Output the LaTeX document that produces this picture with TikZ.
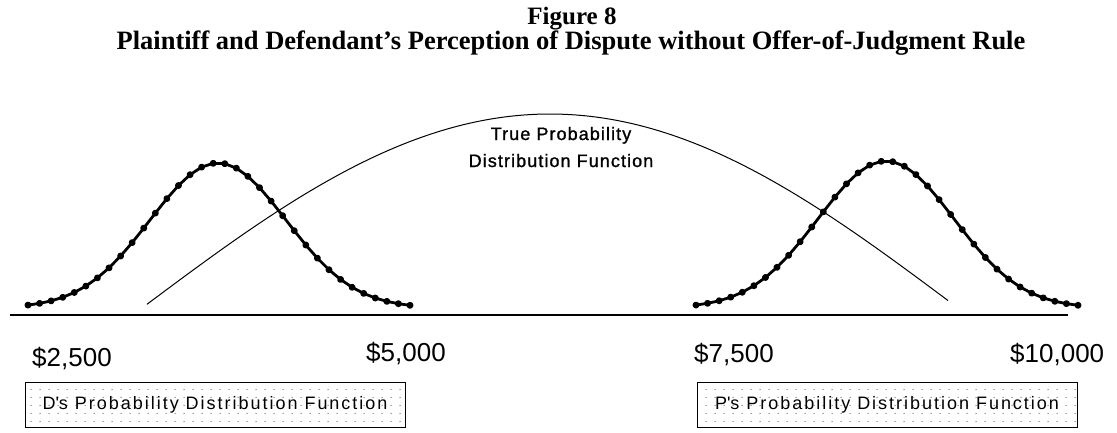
\documentclass[tikz,border=0pt]{standalone}
\usepackage{fontspec}
\setmainfont{Liberation Serif}
\newfontfamily\chartfont{Liberation Sans}
\newfontfamily\boxfont{Liberation Sans}[LetterSpace=11]
\newfontfamily\curvefont{Liberation Sans}[LetterSpace=6, FakeBold=1.2]
\usetikzlibrary{patterns.meta}

% sparse dot fill of the legend boxes
\tikzdeclarepattern{
  name=boxdots,
  type=uncolored,
  bounding box={(0pt,0pt) and (9pt,8pt)},
  tile size={(9pt,8pt)},
  code={\fill (4.5pt,4pt) circle (0.65pt);}
}

\tikzset{
  bellcurve/.style={line width=2.8pt, line join=round, mark=*,
    mark size=2pt, mark options={solid}},
  truecurve/.style={line width=1pt, line join=round},
  amount/.style={font=\chartfont\fontsize{26}{28}\selectfont, anchor=base west,
    inner sep=0pt},
  legendbox/.style={draw, line width=0.8pt, pattern={boxdots},
    pattern color=black!65, inner sep=0pt, minimum height=45pt,
    font=\boxfont\fontsize{18}{20}\selectfont},
}

\begin{document}
\begin{tikzpicture}[x=1pt, y=-1pt]
  \useasboundingbox (0,0) rectangle (1117,432);
  % Title
  \node[font=\bfseries\fontsize{25}{27}\selectfont, anchor=base] (fig) at (572,24) {Figure 8};
  \node[font=\bfseries\fontsize{26.5}{28}\selectfont, anchor=base] (title) at (571,49)
    {Plaintiff and Defendant’s Perception of Dispute without Offer-of-Judgment Rule};
  % Axis
  \coordinate (axisL) at (10,315);
  \coordinate (axisR) at (1068,315);
  \draw[line width=1.8pt] (axisL) -- (axisR);
  % True probability distribution
  \draw[truecurve] plot[domain=-403:398, samples=120]
    ({550+\x}, {308-194*cos(90*(\x/408))});
  \node[font=\curvefont\fontsize{18}{20}\selectfont, align=center, anchor=base] (truelab) at (561,167)
    {True Probability\\[7pt]Distribution Function};
  % D's and P's perceived distributions
  \draw[bellcurve] plot[domain=-190:192, samples=34]
    ({218+\x}, {308-145*exp(-0.5*(\x/68)^2)});
  \draw[bellcurve] plot[domain=-190:192, samples=34]
    ({886+\x}, {308-147*exp(-0.5*(\x/68)^2)});
  % Dollar amounts
  \foreach \x/\y/\nm/\lab in {%
    32/366/a/{2,500},   % left end
    366/361/b/{5,000},
    694/362/c/{7,500},
    1010/362/d/{10,000}% right end
  }{
    \node[amount] (amt\nm) at (\x,\y) {\$\lab};
  }
  % Legend boxes
  \node[legendbox, minimum width=380pt] (dbox) at (215,405)
    {D\textquotesingle s Probability Distribution Function};
  \node[legendbox, minimum width=380pt] (pbox) at (887,405)
    {P\textquotesingle s Probability Distribution Function};
\end{tikzpicture}
\end{document}
